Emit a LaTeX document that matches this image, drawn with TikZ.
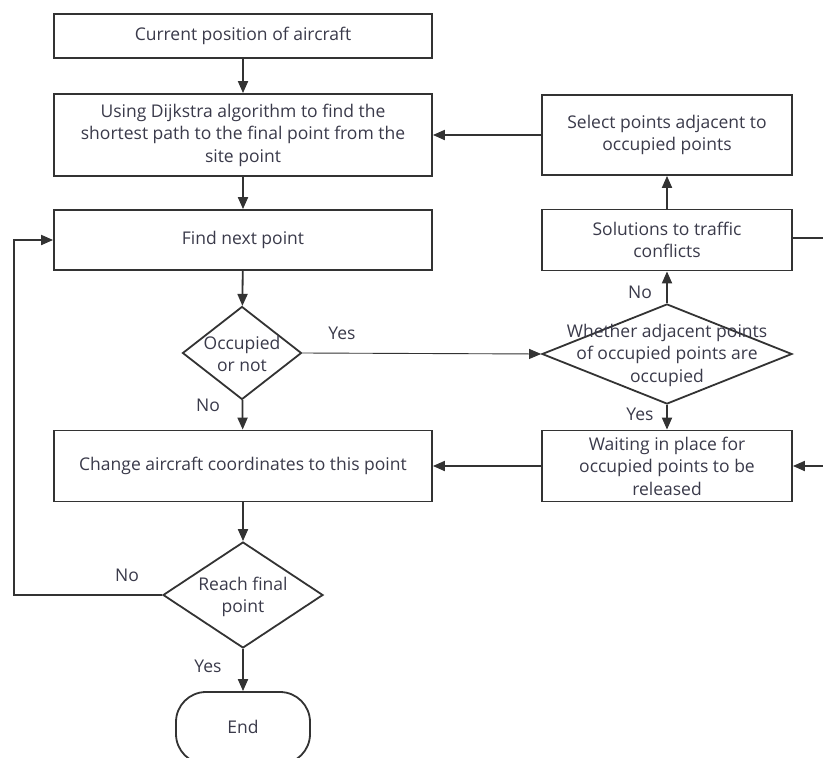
\documentclass[tikz,border=0pt]{standalone}
\usepackage{fontspec}
\setmainfont{Open Sans}
\usetikzlibrary{arrows.meta,shapes.geometric,calc}
\definecolor{linec}{HTML}{333333}
\definecolor{textc}{HTML}{3A3A4A}
\begin{document}
\begin{tikzpicture}[x=1pt,y=-1pt,
  every node/.style={font=\fontsize{17.5}{22.5}\selectfont, text=textc},
  procbox/.style={draw=linec, line width=1.8pt, minimum width=#1, align=center, inner sep=0pt},
  decision/.style={draw=linec, line width=1.8pt, diamond, inner sep=0pt},
  flow/.style={draw=linec, line width=1.8pt, -{Triangle[length=12pt,width=10pt]}},
  thinflow/.style={draw=linec, line width=0.9pt, -{Triangle[length=12pt,width=10pt]}},
  lbl/.style={font=\fontsize{17.5}{22.5}\selectfont, text=textc}]
\useasboundingbox (0,0) rectangle (823,758);
\fill[white] (0,0) rectangle (823,758);
\begin{scope}
\clip (0,0) rectangle (823,758);

% left column
\node[procbox=378pt, minimum height=44pt] (start) at (243,36) {Current position of aircraft};
\node[procbox=378pt, minimum height=82pt] (dijk) at (243,135) {Using Dijkstra algorithm to find the\\shortest path to the final point from the\\site point};
\node[procbox=378pt, minimum height=60pt] (next) at (243,240) {Find next point};
\node[decision, minimum width=119pt, minimum height=93pt] (occ) at (242,353) {};
\node[align=center] at (242,354) {Occupied\\or not};
\node[procbox=378pt, minimum height=71pt] (change) at (243,466) {Change aircraft coordinates to this point};
\node[decision, minimum width=160pt, minimum height=106pt] (reach) at (243,595) {};
\node[align=center] at (243,597) {Reach final\\point};
\node[draw=linec, line width=1.8pt, rounded corners=30pt, minimum width=134pt, minimum height=72pt] (end) at (243,728) {};
\node at (243,727) {End};

% right column
\node[procbox=250pt, minimum height=80pt] (select) at (667,135) {Select points adjacent to\\occupied points};
\node[procbox=250pt, minimum height=61pt] (solve) at (667,240) {Solutions to traffic\\conflicts};
\node[decision, minimum width=250pt, minimum height=100pt] (adj) at (667,354) {};
\node[align=center] at (667,355) {Whether adjacent points\\of occupied points are\\occupied};
\node[procbox=250pt, minimum height=71pt] (wait) at (667,466) {Waiting in place for\\occupied points to be\\released};

\coordinate (outR) at (830,238);
\coordinate (inR) at (830,466);
\coordinate (loopT) at (14,240);

% connectors
\draw[flow] (start) -- (dijk);
\draw[flow] (dijk) -- (next);
\draw[flow] (next) -- (occ);
\draw[flow] (occ) -- (change);
\draw[thinflow] (occ.east) -- (adj.west);
\draw[flow] (adj.north) -- (solve.south);
\draw[flow] (solve.north) -- (select.south);
\draw[flow] (select.west) -- (dijk.east);
\draw[flow] (adj.south) -- (wait.north);
\draw[flow] (wait.west) -- (change.east);
\draw[flow] (change) -- (reach);
\draw[flow] (reach) -- (end);
\draw[flow] (reach.west) -| (loopT) -- (next.west);
\draw[draw=linec, line width=1.8pt] (solve.east |- outR) -- (outR);
\draw[flow] (inR) -- (wait.east);

% branch labels
\node[lbl] at (208,405) {No};
\node[lbl] at (342,333) {Yes};
\node[lbl] at (640,292) {No};
\node[lbl] at (640,414) {Yes};
\node[lbl] at (127,575) {No};
\node[lbl] at (208,666) {Yes};
\end{scope}
\end{tikzpicture}
\end{document}
